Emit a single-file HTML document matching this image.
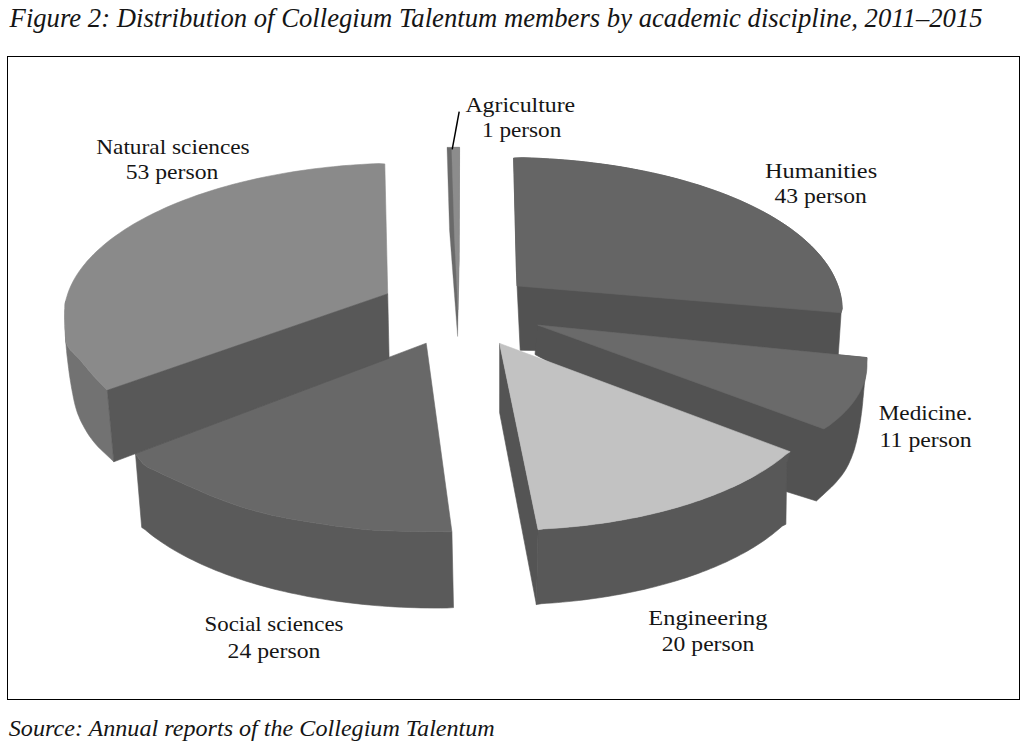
<!DOCTYPE html>
<html><head><meta charset="utf-8"><style>
html,body{margin:0;padding:0;background:#fff;}
body{width:1030px;height:755px;overflow:hidden;position:relative;}
svg{position:absolute;left:0;top:0;}
text{font-family:"Liberation Serif",serif;fill:#151515;}
.lab text{font-size:22px;}
.cap{font-style:italic;}
</style></head><body>
<svg width="1030" height="755" viewBox="0 0 1030 755">
<text class="cap" x="9.6" y="26.5" font-size="26.6" textLength="973" lengthAdjust="spacingAndGlyphs">Figure 2: Distribution of Collegium Talentum members by academic discipline, 2011–2015</text>
<rect x="7.5" y="56.5" width="1012" height="643" fill="none" stroke="#000" stroke-width="1"/>
<polygon fill="#6a6a6a" stroke="#6a6a6a" stroke-width="0.3" stroke-linejoin="round" points="447.0,147.3 459.6,147.3 459.2,260.0 457.6,336.5 449.5,230.0"/>
<polygon fill="#8c8c8c" stroke="#8c8c8c" stroke-width="0.3" stroke-linejoin="round" points="451.6,147.3 459.6,147.3 459.2,260.0 458.0,310.0 454.5,240.0"/>
<polygon fill="#525252" stroke="#525252" stroke-width="0.6" stroke-linejoin="round" points="513.6,158.1 522.7,157.7 531.7,158.0 540.7,158.4 549.7,158.9 558.6,159.5 567.5,160.2 576.3,161.0 585.1,161.9 593.8,163.0 602.4,164.1 611.0,165.3 619.4,166.6 627.8,168.0 636.1,169.6 644.4,171.2 652.5,172.9 660.5,174.7 668.3,176.6 676.1,178.6 683.8,180.7 691.3,182.9 698.7,185.1 705.9,187.5 713.0,189.9 720.0,192.4 726.8,195.0 733.4,197.7 739.9,200.4 746.2,203.3 752.3,206.2 758.3,209.2 764.1,212.2 769.7,215.3 775.1,218.5 780.4,221.8 785.4,225.1 790.3,228.4 794.9,231.9 799.3,235.3 803.6,238.9 807.6,242.5 811.4,246.1 815.0,249.8 818.4,253.5 821.6,257.3 824.5,261.1 827.3,264.9 829.8,268.8 832.1,272.7 834.1,276.6 835.9,280.6 837.5,284.5 838.9,288.5 840.0,292.6 840.9,296.6 841.6,300.6 842.0,304.7 842.2,308.7 841.1,312.8 838.2,356.0 520.2,350.3 516.3,270.0"/>
<polygon fill="#656565" stroke="#656565" stroke-width="0.6" stroke-linejoin="round" points="513.6,158.1 522.7,157.7 531.7,158.0 540.7,158.4 549.7,158.9 558.6,159.5 567.5,160.2 576.3,161.0 585.1,161.9 593.8,163.0 602.4,164.1 611.0,165.3 619.4,166.6 627.8,168.0 636.1,169.6 644.4,171.2 652.5,172.9 660.5,174.7 668.3,176.6 676.1,178.6 683.8,180.7 691.3,182.9 698.7,185.1 705.9,187.5 713.0,189.9 720.0,192.4 726.8,195.0 733.4,197.7 739.9,200.4 746.2,203.3 752.3,206.2 758.3,209.2 764.1,212.2 769.7,215.3 775.1,218.5 780.4,221.8 785.4,225.1 790.3,228.4 794.9,231.9 799.3,235.3 803.6,238.9 807.6,242.5 811.4,246.1 815.0,249.8 818.4,253.5 821.6,257.3 824.5,261.1 827.3,264.9 829.8,268.8 832.1,272.7 834.1,276.6 835.9,280.6 837.5,284.5 838.9,288.5 840.0,292.6 840.9,296.6 841.6,300.6 842.0,304.7 842.2,308.7 841.1,312.8 516.9,285.9"/>
<polygon fill="#5a5a5a" stroke="#5a5a5a" stroke-width="0.6" stroke-linejoin="round" points="451.9,531.8 443.6,531.7 435.3,531.7 426.9,531.7 418.6,531.6 410.5,531.5 402.7,531.3 395.3,531.1 388.3,530.8 381.5,530.6 374.6,530.2 367.5,529.7 360.0,529.0 351.9,528.1 343.3,527.1 334.5,525.9 325.6,524.6 317.0,523.3 308.9,522.0 301.2,520.7 293.8,519.5 286.6,518.2 279.6,516.8 272.7,515.4 265.9,513.8 259.2,512.1 252.7,510.3 246.2,508.4 239.9,506.5 233.5,504.3 227.1,502.1 220.5,499.6 213.8,497.0 207.1,494.2 200.5,491.3 194.2,488.6 188.3,486.0 182.7,483.5 177.3,481.1 172.2,478.7 167.4,476.4 163.0,474.4 159.1,472.5 155.8,471.0 153.1,469.8 150.8,468.8 148.7,467.8 146.8,466.7 144.9,465.3 143.1,463.7 141.4,461.8 139.9,459.9 138.5,457.9 137.0,455.9 135.5,454.0 141.7,527.4 145.2,529.8 148.3,532.4 151.4,534.9 154.7,537.4 158.1,539.8 161.6,542.2 165.2,544.6 168.9,547.0 172.7,549.3 176.6,551.6 180.6,553.8 184.7,556.0 188.9,558.2 193.2,560.3 197.6,562.4 202.0,564.5 206.6,566.5 211.3,568.5 216.0,570.5 220.8,572.3 225.7,574.2 230.7,576.0 235.8,577.8 240.9,579.5 246.1,581.2 251.4,582.8 256.8,584.4 262.2,585.9 267.7,587.4 273.3,588.9 278.9,590.3 284.6,591.6 290.4,592.9 296.2,594.1 302.0,595.3 307.9,596.5 313.9,597.6 319.9,598.6 326.0,599.6 332.1,600.5 338.3,601.4 344.4,602.2 350.7,603.0 356.9,603.7 363.2,604.4 369.5,605.0 375.9,605.6 382.3,606.1 388.7,606.5 395.1,606.9 401.6,607.2 408.0,607.5 414.5,607.7 421.0,607.9 427.5,608.0 434.0,608.1 440.5,608.1 447.0,608.0 453.5,607.6"/>
<polygon fill="#686868" stroke="#686868" stroke-width="0.6" stroke-linejoin="round" points="426.4,344.6 451.9,531.8 443.6,531.7 435.3,531.7 426.9,531.7 418.6,531.6 410.5,531.5 402.7,531.3 395.3,531.1 388.3,530.8 381.5,530.6 374.6,530.2 367.5,529.7 360.0,529.0 351.9,528.1 343.3,527.1 334.5,525.9 325.6,524.6 317.0,523.3 308.9,522.0 301.2,520.7 293.8,519.5 286.6,518.2 279.6,516.8 272.7,515.4 265.9,513.8 259.2,512.1 252.7,510.3 246.2,508.4 239.9,506.5 233.5,504.3 227.1,502.1 220.5,499.6 213.8,497.0 207.1,494.2 200.5,491.3 194.2,488.6 188.3,486.0 182.7,483.5 177.3,481.1 172.2,478.7 167.4,476.4 163.0,474.4 159.1,472.5 155.8,471.0 153.1,469.8 150.8,468.8 148.7,467.8 146.8,466.7 144.9,465.3 143.1,463.7 141.4,461.8 139.9,459.9 138.5,457.9 137.0,455.9 135.5,454.0 134.8,453.5 426.2,343.2"/>
<polygon fill="#727272" stroke="#727272" stroke-width="0.6" stroke-linejoin="round" points="65.6,301.3 65.1,303.9 65.0,306.2 65.0,308.6 64.9,310.9 64.9,313.2 64.9,315.6 64.9,318.0 65.0,320.5 65.0,323.0 65.1,325.6 65.2,328.1 65.4,330.6 65.6,333.0 65.7,335.3 65.8,337.5 65.9,339.6 66.1,341.7 66.7,343.8 67.6,346.0 69.0,348.2 70.8,350.4 73.0,352.6 75.2,354.9 77.5,357.2 79.7,359.6 81.8,362.1 84.0,364.7 86.2,367.3 88.4,370.0 90.6,372.6 92.9,375.2 95.2,377.7 97.6,380.3 100.0,382.8 102.5,385.3 104.9,387.8 107.3,390.3 113.8,461.8 113.8,461.8 110.7,458.8 107.5,455.8 104.3,452.8 101.1,449.8 98.2,446.9 95.6,444.0 93.3,441.3 91.3,438.6 89.4,436.0 87.7,433.4 86.1,430.8 84.5,428.0 83.0,425.2 81.5,422.4 80.1,419.5 78.9,416.5 77.6,413.4 76.5,410.0 75.4,406.3 74.4,402.3 73.5,398.1 72.7,393.8 71.9,389.7 71.2,385.8 70.6,382.1 70.0,378.5 69.5,375.0 69.0,371.5 68.6,368.2 68.2,365.0 67.8,361.9 67.5,359.0 67.1,356.1 66.8,353.4 66.6,350.7 66.3,348.0 66.1,345.4 65.8,342.9 65.6,340.4 65.5,337.9 65.3,335.5 65.2,333.0 65.1,330.5 65.0,328.0 65.0,325.5 65.0,323.0 64.9,320.5 64.9,318.0"/>
<polygon fill="#8a8a8a" stroke="#8a8a8a" stroke-width="0.6" stroke-linejoin="round" points="384.8,163.9 379.0,163.6 373.3,163.8 367.6,164.1 361.8,164.4 356.1,164.8 350.4,165.2 344.7,165.6 339.1,166.1 333.4,166.7 327.8,167.2 322.1,167.9 316.6,168.5 311.0,169.2 305.4,170.0 299.9,170.8 294.4,171.6 289.0,172.5 283.5,173.4 278.2,174.4 272.8,175.4 267.5,176.4 262.2,177.5 257.0,178.6 251.8,179.8 246.6,181.0 241.5,182.2 236.4,183.5 231.4,184.8 226.4,186.2 221.5,187.6 216.6,189.0 211.8,190.5 207.1,192.0 202.4,193.6 197.7,195.1 193.1,196.8 188.6,198.4 184.2,200.1 179.8,201.8 175.4,203.5 171.2,205.3 167.0,207.1 162.8,209.0 158.8,210.9 154.8,212.8 150.9,214.7 147.0,216.7 143.3,218.7 139.6,220.7 136.0,222.7 132.4,224.8 129.0,226.9 125.6,229.0 122.3,231.2 119.1,233.4 116.0,235.6 112.9,237.8 109.9,240.0 107.1,242.3 104.3,244.6 101.6,246.9 99.0,249.2 96.4,251.6 94.0,253.9 91.7,256.3 89.4,258.7 87.2,261.1 85.2,263.6 83.2,266.0 81.3,268.5 79.5,270.9 77.8,273.4 76.2,275.9 74.7,278.4 73.3,280.9 72.0,283.5 70.8,286.0 69.7,288.5 68.7,291.1 67.8,293.6 67.0,296.2 66.2,298.8 65.6,301.3 65.1,303.9 65.0,306.2 65.0,308.6 64.9,310.9 64.9,313.2 64.9,315.6 64.9,318.0 65.0,320.5 65.0,323.0 65.1,325.6 65.2,328.1 65.4,330.6 65.6,333.0 65.7,335.3 65.8,337.5 65.9,339.6 66.1,341.7 66.7,343.8 67.6,346.0 69.0,348.2 70.8,350.4 73.0,352.6 75.2,354.9 77.5,357.2 79.7,359.6 81.8,362.1 84.0,364.7 86.2,367.3 88.4,370.0 90.6,372.6 92.9,375.2 95.2,377.7 97.6,380.3 100.0,382.8 102.5,385.3 104.9,387.8 107.3,390.3 387.7,293.8"/>
<polygon fill="#585858" stroke="#585858" stroke-width="0.6" stroke-linejoin="round" points="107.3,390.3 387.7,293.8 389.1,358.3 113.8,461.8"/>
<polygon fill="#525252" stroke="#525252" stroke-width="0.6" stroke-linejoin="round" points="537.5,325.0 867.0,357.6 866.8,360.1 866.6,362.5 866.4,364.9 866.2,367.4 866.0,369.9 865.8,372.4 865.5,374.9 865.3,377.4 865.0,379.9 864.6,382.5 864.3,385.3 864.0,388.3 863.7,391.6 863.4,395.1 863.0,398.8 862.7,402.5 862.3,406.3 861.9,410.0 861.4,413.7 860.9,417.4 860.4,421.1 859.8,424.8 859.2,428.4 858.5,432.0 857.8,435.5 857.0,438.9 856.3,442.3 855.4,445.6 854.5,448.9 853.5,452.0 852.4,455.1 851.3,458.0 850.0,460.9 848.8,463.7 847.4,466.4 846.0,469.0 844.5,471.4 842.9,473.8 841.3,476.0 839.6,478.1 837.9,480.1 836.3,482.0 834.7,483.8 833.1,485.4 831.5,487.0 829.9,488.5 828.3,490.0 826.7,491.5 825.0,493.1 823.3,494.7 821.6,496.2 819.9,497.8 818.1,499.4 816.4,501.0 786.0,491.5 535.0,354.5"/>
<polygon fill="#6a6a6a" stroke="#6a6a6a" stroke-width="0.6" stroke-linejoin="round" points="537.5,325.0 867.0,357.6 866.9,361.5 867.0,365.5 866.8,369.4 866.4,373.3 865.6,377.3 864.5,381.2 863.1,385.1 861.4,388.9 859.5,392.8 857.2,396.6 854.6,400.4 851.8,404.2 848.7,407.9 845.3,411.5 841.6,415.2 837.7,418.7 833.4,422.2 829.0,425.7 823.8,428.9"/>
<polygon fill="#585858" stroke="#585858" stroke-width="0.6" stroke-linejoin="round" points="790.2,451.7 787.0,453.7 784.4,455.8 781.8,457.9 779.1,460.0 776.3,462.1 773.4,464.2 770.4,466.2 767.4,468.2 764.3,470.2 761.1,472.1 757.9,474.1 754.5,476.0 751.1,477.9 747.6,479.7 744.1,481.6 740.5,483.4 736.8,485.2 733.1,486.9 729.2,488.6 725.4,490.3 721.4,492.0 717.4,493.6 713.4,495.2 709.2,496.8 705.1,498.3 700.8,499.9 696.5,501.3 692.2,502.8 687.8,504.2 683.3,505.6 678.8,506.9 674.3,508.2 669.6,509.5 665.0,510.7 660.3,511.9 655.6,513.1 650.8,514.2 646.0,515.3 641.1,516.4 636.2,517.4 631.3,518.3 626.3,519.3 621.3,520.2 616.3,521.0 611.2,521.9 606.1,522.7 601.0,523.4 595.9,524.1 590.7,524.8 585.5,525.4 580.3,526.0 575.0,526.5 569.8,527.0 564.5,527.5 559.3,527.9 554.0,528.3 548.7,528.6 543.3,528.9 538.1,529.7 536.4,604.6 541.6,603.7 546.9,603.3 552.2,603.0 557.5,602.6 562.8,602.1 568.1,601.6 573.3,601.1 578.6,600.5 583.8,599.9 589.0,599.2 594.1,598.5 599.3,597.8 604.4,597.0 609.4,596.2 614.5,595.3 619.5,594.4 624.5,593.5 629.4,592.5 634.4,591.5 639.2,590.4 644.1,589.4 648.8,588.2 653.6,587.1 658.3,585.8 662.9,584.6 667.6,583.3 672.1,582.0 676.6,580.7 681.1,579.3 685.5,577.9 689.8,576.4 694.1,574.9 698.4,573.4 702.5,571.8 706.7,570.3 710.7,568.6 714.7,567.0 718.6,565.3 722.5,563.6 726.3,561.9 730.0,560.1 733.7,558.3 737.3,556.5 740.8,554.6 744.3,552.8 747.6,550.9 750.9,548.9 754.2,547.0 757.3,545.0 760.4,543.0 763.4,541.0 766.3,538.9 769.1,536.8 771.9,534.8 774.6,532.6 777.1,530.5 779.6,528.4 782.1,526.2 785.9,524.3 786.8,462.7"/>
<polygon fill="#545454" stroke="#545454" stroke-width="0.6" stroke-linejoin="round" points="499.6,343.4 499.6,412.5 536.4,604.6 538.1,529.7"/>
<polygon fill="#c2c2c2" stroke="#c2c2c2" stroke-width="0.6" stroke-linejoin="round" points="499.6,343.4 790.2,451.7 787.0,453.7 784.4,455.8 781.8,457.9 779.1,460.0 776.3,462.1 773.4,464.2 770.4,466.2 767.4,468.2 764.3,470.2 761.1,472.1 757.9,474.1 754.5,476.0 751.1,477.9 747.6,479.7 744.1,481.6 740.5,483.4 736.8,485.2 733.1,486.9 729.2,488.6 725.4,490.3 721.4,492.0 717.4,493.6 713.4,495.2 709.2,496.8 705.1,498.3 700.8,499.9 696.5,501.3 692.2,502.8 687.8,504.2 683.3,505.6 678.8,506.9 674.3,508.2 669.6,509.5 665.0,510.7 660.3,511.9 655.6,513.1 650.8,514.2 646.0,515.3 641.1,516.4 636.2,517.4 631.3,518.3 626.3,519.3 621.3,520.2 616.3,521.0 611.2,521.9 606.1,522.7 601.0,523.4 595.9,524.1 590.7,524.8 585.5,525.4 580.3,526.0 575.0,526.5 569.8,527.0 564.5,527.5 559.3,527.9 554.0,528.3 548.7,528.6 543.3,528.9 538.1,529.7"/>
<line x1="452.2" y1="149.3" x2="459.2" y2="111.7" stroke="#000" stroke-width="1.5"/>
<g class="lab">
<text x="96.2" y="154" textLength="153.5" lengthAdjust="spacingAndGlyphs">Natural sciences</text>
<text x="125.7" y="179.4" textLength="92.6" lengthAdjust="spacingAndGlyphs">53 person</text>
<text x="465.4" y="111.7" textLength="109.8" lengthAdjust="spacingAndGlyphs">Agriculture</text>
<text x="482" y="137.4" textLength="79.3" lengthAdjust="spacingAndGlyphs">1 person</text>
<text x="765" y="177.9" textLength="112.1" lengthAdjust="spacingAndGlyphs">Humanities</text>
<text x="774.5" y="203.3" textLength="92.4" lengthAdjust="spacingAndGlyphs">43 person</text>
<text x="878.7" y="419.9" textLength="93.6" lengthAdjust="spacingAndGlyphs">Medicine.</text>
<text x="879.6" y="446.5" textLength="92.1" lengthAdjust="spacingAndGlyphs">11 person</text>
<text x="204.5" y="630.5" textLength="139" lengthAdjust="spacingAndGlyphs">Social sciences</text>
<text x="227.6" y="658.1" textLength="92.8" lengthAdjust="spacingAndGlyphs">24 person</text>
<text x="648.3" y="624.8" textLength="119.2" lengthAdjust="spacingAndGlyphs">Engineering</text>
<text x="661.8" y="650.9" textLength="92.5" lengthAdjust="spacingAndGlyphs">20 person</text>
</g>
<text class="cap" x="8.8" y="735.8" font-size="24.1" textLength="486" lengthAdjust="spacingAndGlyphs">Source: Annual reports of the Collegium Talentum</text>
</svg>
</body></html>
